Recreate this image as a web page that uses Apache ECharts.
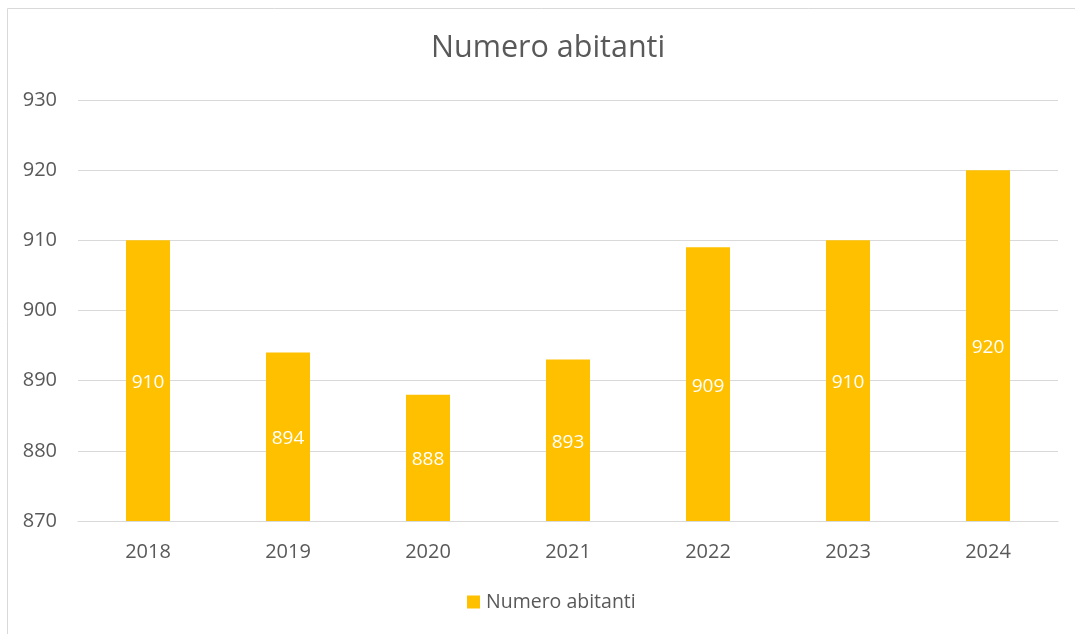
<!DOCTYPE html>
<html>
<head>
<meta charset="utf-8">
<title>Numero abitanti</title>
<script src="https://cdn.jsdelivr.net/npm/echarts@6/dist/echarts.min.js"></script>
<style>
  html, body { margin: 0; padding: 0; background: #fff; }
  #chart { width: 1075px; height: 634px; }
</style>
</head>
<body>
<div id="chart"></div>
<script>
var years = ['2018', '2019', '2020', '2021', '2022', '2023', '2024']
var abitanti = [910, 894, 888, 893, 909, 910, 920]
var seriesName = 'Numero abitanti'

var font = '"Open Sans", "Noto Sans", sans-serif'
var chart = echarts.init(document.getElementById('chart'))

chart.setOption({
  animation: false,
  textStyle: { fontFamily: font },
  // frame of the chart area (only top and left edges visible)
  graphic: [{
    type: 'rect',
    silent: true,
    shape: { x: 7.5, y: 8.5, width: 1200, height: 800 },
    style: { fill: 'none', stroke: '#d9d9d9', lineWidth: 1 }
  }],
  title: {
    text: seriesName,
    left: 426,
    top: 28,
    textStyle: { fontFamily: font, fontSize: 30.5, fontWeight: 'normal', color: '#595959' }
  },
  legend: {
    data: [seriesName],
    top: 587,
    left: 462,
    itemWidth: 13,
    itemHeight: 13,
    itemGap: 6,
    icon: 'rect',
    textStyle: { fontFamily: font, fontSize: 19.5, color: '#595959', padding: [0, 0, 0, 1] }
  },
  grid: {
    left: 78,
    right: 17,
    top: 100,
    bottom: 113,
    containLabel: false
  },
  xAxis: {
    type: 'category',
    data: years,
    axisLine: { lineStyle: { color: '#d9d9d9' } },
    axisTick: { show: false },
    axisLabel: { color: '#595959', fontSize: 20, margin: 21, fontFamily: font }
  },
  yAxis: {
    type: 'value',
    min: 870,
    max: 930,
    interval: 10,
    axisLine: { show: false },
    axisTick: { show: false },
    axisLabel: { color: '#595959', fontSize: 20, margin: 21, fontFamily: font },
    splitLine: { lineStyle: { color: '#d9d9d9', width: 1 } }
  },
  series: [{
    name: seriesName,
    type: 'bar',
    data: abitanti,
    barWidth: 44,
    itemStyle: { color: '#ffc000' },
    label: {
      show: true,
      position: 'inside',
      offset: [0, 2],
      color: '#ffffff',
      fontSize: 19,
      fontFamily: font
    }
  }]
})
</script>
</body>
</html>
